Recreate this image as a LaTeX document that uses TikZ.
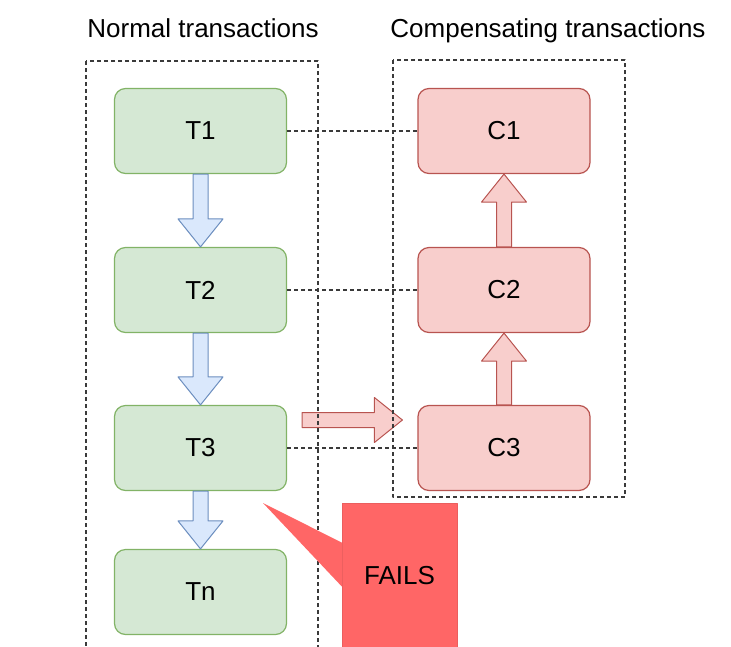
\documentclass[tikz,border=0pt]{standalone}
\usepackage{fontspec}
\setmainfont{Liberation Sans}
\usetikzlibrary{calc}
\definecolor{tfill}{HTML}{D5E8D4}
\definecolor{tline}{HTML}{82B366}
\definecolor{cfill}{HTML}{F8CECC}
\definecolor{cline}{HTML}{B85450}
\definecolor{afill}{HTML}{DAE8FC}
\definecolor{aline}{HTML}{6C8EBF}
\definecolor{failred}{HTML}{FF6666}
\definecolor{dashgray}{HTML}{3A3A3A}
\tikzset{
  fat arrow/.style={line width=1pt,to path={
    ($(\tikztostart)!7.5pt!90:(\tikztotarget)$)
    -- ($(\tikztotarget)!28pt!(\tikztostart)!7.5pt!90:(\tikztotarget)$)
    -- ($(\tikztotarget)!28pt!(\tikztostart)!22.5pt!90:(\tikztotarget)$)
    -- (\tikztotarget)
    -- ($(\tikztotarget)!28pt!(\tikztostart)!22.5pt!-90:(\tikztotarget)$)
    -- ($(\tikztotarget)!28pt!(\tikztostart)!7.5pt!-90:(\tikztotarget)$)
    -- ($(\tikztostart)!7.5pt!-90:(\tikztotarget)$) -- cycle}},
}
\begin{document}
\begin{tikzpicture}[x=1pt,y=-1pt,font=\fontsize{26}{30}\selectfont,line join=round,
  tbox/.style={draw=tline,fill=tfill,line width=1.2pt,rounded corners=11pt,minimum width=172pt,minimum height=85pt},
  cbox/.style={draw=cline,fill=cfill,line width=1.2pt,rounded corners=11pt,minimum width=172pt,minimum height=85pt},
  bluearrow/.style={fat arrow,draw=aline,fill=afill},
  redarrow/.style={fat arrow,draw=cline,fill=cfill},
  link/.style={draw=dashgray,line width=1.3pt,dash pattern=on 4pt off 3pt},
  group/.style={draw=dashgray,line width=1.3pt,dash pattern=on 4pt off 3pt}]
	\useasboundingbox (0,0) rectangle (731,646);
	\clip (0,0) rectangle (731,646);
	
	\node[anchor=base] (normal) at (203,37.5) {Normal transactions};
	\node[anchor=base] (comp) at (548,37.5) {Compensating transactions};
	
	\node[tbox] (t1) at (200.5,131) {T1};
	\node[tbox] (t2) at (200.5,290) {T2};
	\node[tbox] (t3) at (200.5,448) {T3};
	\node[tbox] (tn) at (200.5,592) {Tn};
	\node[cbox] (c1) at (504,131) {C1};
	\node[cbox] (c2) at (504,290) {C2};
	\node[cbox] (c3) at (504,448) {C3};
	
	\draw[bluearrow] (t1.south) to (t2.north);
	\draw[bluearrow] (t2.south) to (t3.north);
	\draw[bluearrow] (t3.south) to (tn.north);
	\draw[redarrow] (c3.north) to (c2.south);
	\draw[redarrow] (c2.north) to (c1.south);
	\coordinate (fromT3) at ($(t3.east)+(15,-28)$);
	\coordinate (toC3) at ($(c3.west)+(-15,-28)$);
	\draw[redarrow] (fromT3) to (toC3);
	
	\draw[link] (t1.east) -- (c1.west);
	\draw[link] (t2.east) -- (c2.west);
	\draw[link] (t3.east) -- (c3.west);
	
	\draw[group] (86,61) rectangle (318,680);
	\draw[group] (393,60) rectangle (625,497);
	
	\node[fill=failred,draw=failred!92!black,line width=0.6pt,minimum width=115pt,minimum height=146pt] (fails) at (399.5,576) {FAILS};
	\coordinate (failtip) at (263,503);
	\fill[failred] ($(fails.north west)+(0.3,40)$) -- (failtip) -- ($(fails.north west)+(0.3,84)$) -- cycle;
\end{tikzpicture}
\end{document}
